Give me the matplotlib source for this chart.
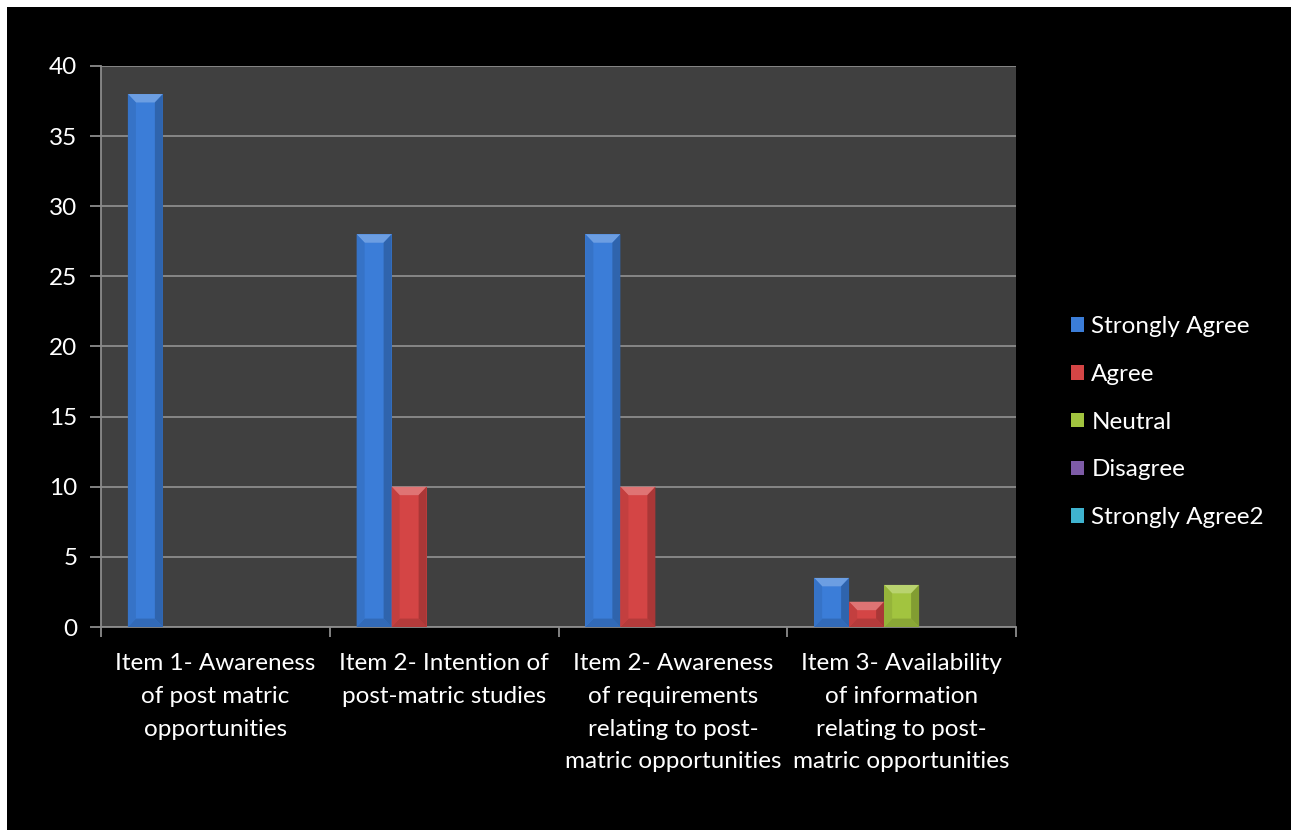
import matplotlib
matplotlib.use('Agg')
import matplotlib.pyplot as plt
from matplotlib.patches import Polygon, Rectangle
import matplotlib.colors as mcolors
import numpy as np

plt.rcParams['font.family'] = ['Lato', 'DejaVu Sans']

# ── Data ──────────────────────────────────────────────────────────────────────
categories = [
    'Item 1- Awareness\nof post matric\nopportunities',
    'Item 2- Intention of\npost-matric studies',
    'Item 2- Awareness\nof requirements\nrelating to post-\nmatric opportunities',
    'Item 3- Availability\nof information\nrelating to post-\nmatric opportunities',
]
series = ['Strongly Agree', 'Agree', 'Neutral', 'Disagree', 'Strongly Agree2']
strongly_agree = [38, 28, 28, 3.5]
agree = [0, 10, 10, 1.8]
neutral = [0, 0, 0, 3]
disagree = [0, 0, 0, 0]
strongly_agree2 = [0, 0, 0, 0]
values = [strongly_agree, agree, neutral, disagree, strongly_agree2]
colors = ['#3b7dd8', '#d44545', '#a2c43f', '#7d5ba6', '#3fb3cf']
yticks = [0, 5, 10, 15, 20, 25, 30, 35, 40]

# ── Figure ────────────────────────────────────────────────────────────────────
W, H = 1295, 830
FS = 17.5
fig = plt.figure(figsize=(W / 100, H / 100), dpi=100)
fig.patch.set_facecolor('white')
bg = Rectangle((7 / W, 0), (1291 - 7) / W, (H - 7) / H,
               transform=fig.transFigure, facecolor='black',
               edgecolor='none', zorder=-10)
fig.add_artist(bg)

ax = fig.add_axes([101 / W, 1 - 627 / H, (1016 - 101) / W, (627 - 66) / H])
ax.set_zorder(1)
ax.set_facecolor('#404040')

x = np.arange(len(categories))
bw = 0.153
GRID = '#8c8c8c'


def shade(c, f):
    r, g, b = mcolors.to_rgb(c)
    if f > 1:
        return tuple(v + (1 - v) * (f - 1) for v in (r, g, b))
    return tuple(v * f for v in (r, g, b))


for i, (vals, col) in enumerate(zip(values, colors)):
    xs = x + (i - 2) * bw
    bars = ax.bar(xs, vals, width=bw, color=col, edgecolor='none',
                  label=series[i], zorder=3)
    # bevel: chamfered top / bottom and darker sides
    for b in bars:
        h = b.get_height()
        if h <= 0:
            continue
        x0, x1 = b.get_x(), b.get_x() + b.get_width()
        cx = 0.035
        cy = min(0.6, h / 2.5)
        ax.add_patch(Polygon([(x0, h), (x1, h), (x1 - cx, h - cy), (x0 + cx, h - cy)],
                             closed=True, facecolor=shade(col, 1.25),
                             edgecolor='none', zorder=4))
        ax.add_patch(Polygon([(x0, 0), (x1, 0), (x1 - cx, cy), (x0 + cx, cy)],
                             closed=True, facecolor=shade(col, 0.85),
                             edgecolor='none', zorder=4))
        ax.add_patch(Polygon([(x0, 0), (x0 + cx, cy), (x0 + cx, h - cy), (x0, h)],
                             closed=True, facecolor=shade(col, 0.92),
                             edgecolor='none', zorder=4))
        ax.add_patch(Polygon([(x1, 0), (x1 - cx, cy), (x1 - cx, h - cy), (x1, h)],
                             closed=True, facecolor=shade(col, 0.8),
                             edgecolor='none', zorder=4))

ax.set_xlim(-0.5, len(categories) - 0.5)
ax.set_ylim(0, 40)
ax.set_yticks(yticks)
ax.yaxis.grid(True, color=GRID, linewidth=1.3, zorder=1)
ax.set_axisbelow(True)

# category boundaries as tick marks, labels at centres
ax.set_xticks(np.arange(-0.5, len(categories)), [''] * (len(categories) + 1))
ax.set_xticks(x, categories, minor=True)
ax.tick_params(axis='x', which='major', direction='out', length=7,
               color=GRID, width=1.3)
ax.tick_params(axis='x', which='minor', length=0, pad=19,
               labelsize=FS, labelcolor='white')
ax.tick_params(axis='y', direction='out', length=8, color=GRID, width=1.3,
               labelsize=FS, labelcolor='white', pad=9)
for lbl in ax.get_xticklabels(minor=True):
    lbl.set_linespacing(1.68)

for s in ['top', 'right']:
    ax.spines[s].set_visible(False)
for s in ['left', 'bottom']:
    ax.spines[s].set_color(GRID)
    ax.spines[s].set_linewidth(1.3)

leg = ax.legend(loc='center left', bbox_to_anchor=(1.0465, 0.365), frameon=False,
                fontsize=FS, labelcolor='white', handlelength=0.55,
                handleheight=0.55, handletextpad=0.3, labelspacing=1.1,
                borderpad=0)

plt.savefig('out.png', dpi=100, facecolor='white')
